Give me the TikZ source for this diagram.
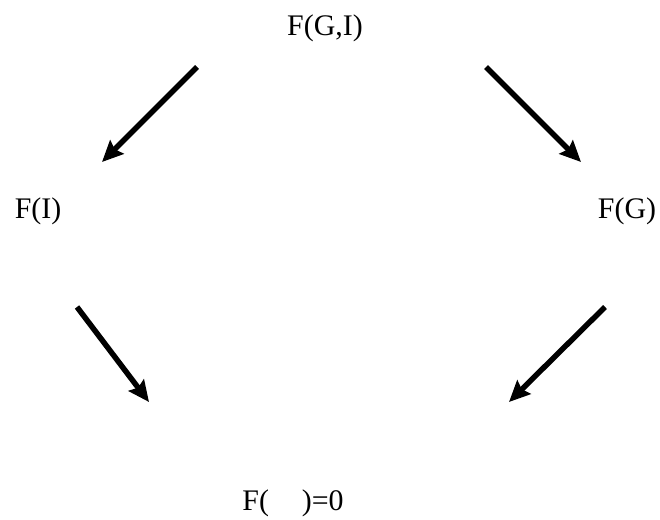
\documentclass[tikz,border=0pt]{standalone}
\usepackage{fontspec}
\setmainfont{Liberation Serif}
\usetikzlibrary{arrows.meta}
\tikzset{
  term/.style={inner sep=0pt,font=\fontsize{30}{36}\selectfont},
  arrow/.style={-{Stealth[length=21bp,width=19bp,inset=3bp]},line width=5.5bp,black}
}

\begin{document}
\begin{tikzpicture}[x=1bp,y=-1bp]
  \useasboundingbox (0,0) rectangle (660,520);
  % the four values
  \node[term] (gi) at (325,28) {F(G,I)};
  \node[term] (i) at (38,211) {F(I)};
  \node[term] (g) at (627,211) {F(G)};
  \node[term] (empty) at (293,503) {F(\hspace{1.1em})=0};
  % arrow ends
  \coordinate (a1) at (197,67);
  \coordinate (b1) at (102,162);
  \coordinate (a2) at (486,67);
  \coordinate (b2) at (581,162);
  \coordinate (a3) at (77,307);
  \coordinate (b3) at (149,402);
  \coordinate (a4) at (605,307);
  \coordinate (b4) at (509,402);
  \draw[arrow] (a1) -- (b1);
  \draw[arrow] (a2) -- (b2);
  \draw[arrow] (a3) -- (b3);
  \draw[arrow] (a4) -- (b4);
\end{tikzpicture}
\end{document}
